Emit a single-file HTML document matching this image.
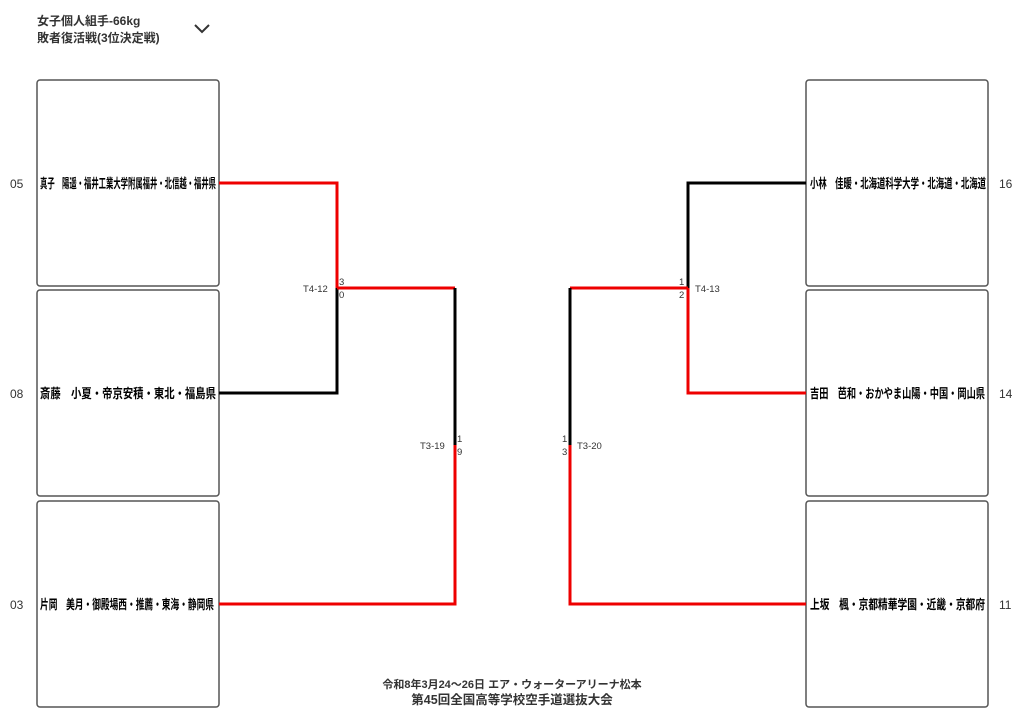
<!DOCTYPE html>
<html><head><meta charset="utf-8"><style>
html,body{margin:0;padding:0;background:#fff;}
svg{display:block;}
text{font-family:"Liberation Sans","Noto Sans CJK JP",sans-serif;}
</style></head><body>
<svg width="1024" height="724" viewBox="0 0 1024 724" xmlns="http://www.w3.org/2000/svg">
<text x="37" y="25" font-size="12" font-weight="bold" fill="#333">女子個人組手-66kg</text>
<text x="37" y="42" font-size="12" font-weight="bold" fill="#333">敗者復活戦(3位決定戦)</text>
<path d="M195 25 L202 32 L209 25" fill="none" stroke="#333" stroke-width="2"/>
<g fill="#fff" stroke="#555" stroke-width="1.5">
<rect x="37" y="80" width="182" height="206" rx="3"/>
<rect x="37" y="290" width="182" height="206" rx="3"/>
<rect x="37" y="501" width="182" height="206" rx="3"/>
<rect x="806" y="80" width="182" height="206" rx="3"/>
<rect x="806" y="290" width="182" height="206" rx="3"/>
<rect x="806" y="501" width="182" height="206" rx="3"/>
</g>
<g fill="none" stroke-width="3">
<path d="M219 183 H337 V288" stroke="#e00"/>
<path d="M337 288 V393 H219" stroke="#000"/>
<path d="M337 288 H455" stroke="#e00"/>
<path d="M455 288 V445" stroke="#000"/>
<path d="M455 445 V604 H219" stroke="#e00"/>
<path d="M806 183 H688 V288" stroke="#000"/>
<path d="M688 288 V393 H806" stroke="#e00"/>
<path d="M688 288 H570" stroke="#e00"/>
<path d="M570 288 V445" stroke="#000"/>
<path d="M570 445 V604 H806" stroke="#e00"/>
</g>
<g font-size="13" fill="#000" font-weight="bold">
<text x="40" y="188" textLength="176" lengthAdjust="spacingAndGlyphs">真子　陽遥・福井工業大学附属福井・北信越・福井県</text>
<text x="40" y="398" textLength="176" lengthAdjust="spacingAndGlyphs">斎藤　小夏・帝京安積・東北・福島県</text>
<text x="40" y="609" textLength="174" lengthAdjust="spacingAndGlyphs">片岡　美月・御殿場西・推薦・東海・静岡県</text>
<text x="810" y="188" textLength="176" lengthAdjust="spacingAndGlyphs">小林　佳暖・北海道科学大学・北海道・北海道</text>
<text x="810" y="398" textLength="175" lengthAdjust="spacingAndGlyphs">吉田　芭和・おかやま山陽・中国・岡山県</text>
<text x="810" y="609" textLength="175" lengthAdjust="spacingAndGlyphs">上坂　楓・京都精華学園・近畿・京都府</text>
</g>
<g font-size="12" fill="#333">
<text x="10" y="188">05</text>
<text x="10" y="398">08</text>
<text x="10" y="609">03</text>
<text x="999" y="188">16</text>
<text x="999" y="398">14</text>
<text x="999" y="609">11</text>
</g>
<g font-size="9.5" fill="#333">
<text x="303" y="292">T4-12</text>
<text x="339" y="285">3</text>
<text x="339" y="298">0</text>
<text x="420" y="449">T3-19</text>
<text x="457" y="442">1</text>
<text x="457" y="455">9</text>
<text x="695" y="292">T4-13</text>
<text x="679" y="285">1</text>
<text x="679" y="298">2</text>
<text x="577" y="449">T3-20</text>
<text x="562" y="442">1</text>
<text x="562" y="455">3</text>
</g>
<text x="512" y="688" font-size="11" font-weight="bold" fill="#333" text-anchor="middle">令和8年3月24～26日  エア・ウォーターアリーナ松本</text>
<text x="512" y="704" font-size="12.5" font-weight="bold" fill="#333" text-anchor="middle">第45回全国高等学校空手道選抜大会</text>
</svg>
</body></html>
